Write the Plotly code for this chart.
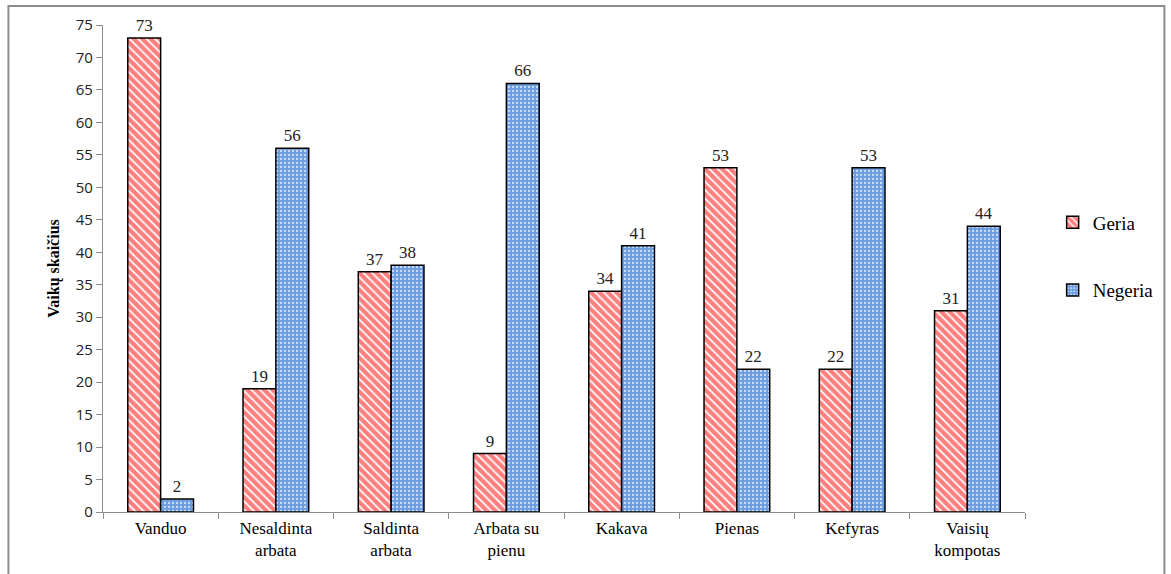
import plotly.graph_objects as go

categories = ["Vanduo", "Nesaldinta<br>arbata", "Saldinta<br>arbata", "Arbata su<br>pienu",
              "Kakava", "Pienas", "Kefyras", "Vaisių<br>kompotas"]
geria = [73, 19, 37, 9, 34, 53, 22, 31]
negeria = [2, 56, 38, 66, 41, 22, 53, 44]
y_ticks = list(range(0, 80, 5))

serif = "Liberation Serif"
sans = "Open Sans"

fig = go.Figure()
fig.add_trace(go.Bar(
    x=categories, y=geria, name="Geria", legendgroup="g1",
    text=geria, textposition="outside", cliponaxis=False,
    textfont=dict(family=serif, size=17, color="#222"),
    marker=dict(color="white", line=dict(color="black", width=1.5),
                pattern=dict(shape="\\", fgcolor="#ff0000", bgcolor="white", size=6, solidity=0.7)),
))
fig.add_trace(go.Bar(
    x=categories, y=negeria, name="Negeria", legendgroup="g2",
    text=negeria, textposition="outside", cliponaxis=False,
    textfont=dict(family=serif, size=17, color="#222"),
    marker=dict(color="#6a9de4", line=dict(color="black", width=1.5),
                pattern=dict(shape=".", fgcolor="#cfe0f8", bgcolor="#6a9de4", size=4, solidity=0.25,
                             fillmode="replace")),
))

fig.update_layout(
    width=1171, height=574,
    margin=dict(l=103, r=142, t=25, b=62),
    paper_bgcolor="white", plot_bgcolor="white",
    barmode="group", bargap=0.43, bargroupgap=0,
    showlegend=True,
    font=dict(family=serif),
    legend=dict(x=1.03, y=0.525, xanchor="left", yanchor="middle",
                font=dict(family=serif, size=19, color="black"),
                tracegroupgap=40, bgcolor="rgba(0,0,0,0)"),
    xaxis=dict(showline=True, linecolor="#8c8c8c", linewidth=1.2, automargin=False,
               ticks="outside", tickson="boundaries", ticklen=6, tickcolor="#8c8c8c",
               tickfont=dict(family=serif, size=17, color="black"), showgrid=False),
    yaxis=dict(range=[0, 75], tickvals=y_ticks, showline=True, linecolor="#8c8c8c", linewidth=1.2,
               automargin=False,
               ticks="outside", ticklen=6, tickcolor="#8c8c8c", showgrid=False, zeroline=False,
               tickfont=dict(family=sans, size=15, color="#222"),
               title=dict(text="<b>Vaikų skaičius</b>", font=dict(family=serif, size=16, color="black"),
                          standoff=12)),
)

fig.add_shape(type="rect", xref="paper", yref="paper",
              x0=(8 - 103) / 926, x1=(1169 - 103) / 926,
              y0=-0.3, y1=(512 - 6) / 487,
              line=dict(color="#8c8c8c", width=2), fillcolor="rgba(0,0,0,0)", layer="below")

fig.write_html("out.html")
